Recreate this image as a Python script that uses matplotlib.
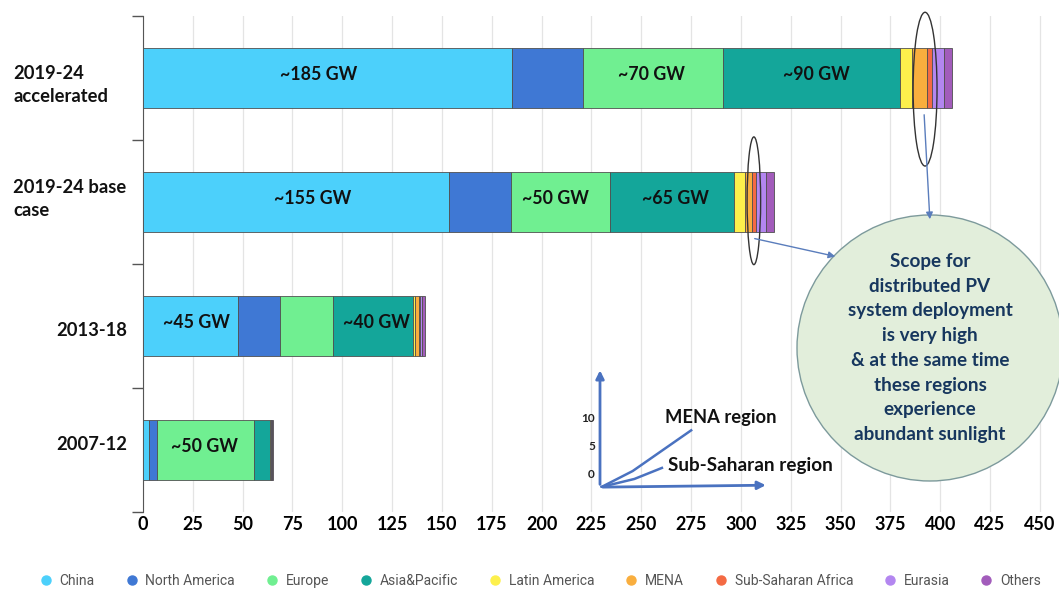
import matplotlib
matplotlib.use("Agg")
import matplotlib.pyplot as plt
from matplotlib.lines import Line2D
from matplotlib.patches import Ellipse
import numpy as np

plt.rcParams["font.family"] = ["Lato", "DejaVu Sans"]

# データ (GW)
categories = ["2019-24\naccelerated", "2019-24 base\ncase", "2013-18", "2007-12"]
regions = ["China", "North America", "Europe", "Asia&Pacific", "Latin America",
           "MENA", "Sub-Saharan Africa", "Eurasia", "Others"]
china = [185, 153.5, 47.7, 2.8]
north_america = [36, 31, 21, 4]
europe = [70, 50, 26.6, 49]
asia_pacific = [89, 62, 40.2, 8]
latin_america = [6, 5.5, 1.2, 0.3]
mena = [7.5, 3.6, 1.6, 0.2]
sub_saharan = [2.5, 1.8, 0.6, 0.1]
eurasia = [6, 5, 1.2, 0.2]
others = [4, 4, 1.4, 0.8]
series = [china, north_america, europe, asia_pacific, latin_america,
          mena, sub_saharan, eurasia, others]
colors = ["#4cd0fb", "#3f78d4", "#70ef91", "#14a69a", "#fdf04c",
          "#f9ae3e", "#f46a43", "#b386f0", "#a25cbb"]

# バー上のラベル: (カテゴリ番号, x位置, テキスト)
bar_labels = [(0, 88, "~185 GW"), (0, 255, "~70 GW"), (0, 338, "~90 GW"),
              (1, 85, "~155 GW"), (1, 207, "~50 GW"), (1, 267, "~65 GW"),
              (2, 27, "~45 GW"), (2, 117, "~40 GW"),
              (3, 31, "~50 GW")]

# 挿入図 (MENA / Sub-Saharan)
inset_ticks = [0, 5, 10]
mena_x = [0.01, 0.19, 0.53]
mena_y = [-2.1, 0.7, 7.9]
ssa_x = [0.01, 0.2, 0.36]
ssa_y = [-2.1, -0.7, 1.25]

W, H = 1059, 593
fig = plt.figure(figsize=(W / 100, H / 100), dpi=100)
ax = fig.add_axes([143 / W, 1 - 512 / H, 1 - 143 / W, 496 / H])


def px(x, y):
    return (x, H - y)


y = np.arange(len(categories))
left = np.zeros(len(categories))
for vals, col, name in zip(series, colors, regions):
    ax.barh(y, vals, left=left, height=0.485, color=col, edgecolor="#505050",
            linewidth=0.6, label=name, zorder=3)
    left += np.array(vals)

for idx, xpos, txt in bar_labels:
    ax.text(xpos, idx - 0.03, txt, ha="center", va="center", fontsize=12.8,
            fontweight="bold", color="#111111", zorder=4)

ax.set_xlim(0, 459.6)
ax.set_ylim(len(categories) - 0.5, -0.5)
ax.set_xticks(np.arange(0, 451, 25))
ax.tick_params(axis="x", length=0, labelsize=13, pad=3)
for lab in ax.get_xticklabels():
    lab.set_fontweight("bold")
ax.grid(axis="x", color="#e4e4e4", linewidth=0.9, zorder=0)
ax.set_yticks(np.arange(-0.5, len(categories) + 0.5, 1))
ax.set_yticklabels([])
ax.tick_params(axis="y", length=8, width=1, color="#555555")
for s in ["top", "right", "bottom"]:
    ax.spines[s].set_visible(False)
ax.spines["left"].set_color("#555555")

# カテゴリ名
label_pos = [(13, 85, "left"), (13, 199, "left"), (127, 331, "right"), (127, 445, "right")]
for (lx, ly, ha), txt in zip(label_pos, categories):
    fig.text(lx / W, 1 - ly / H, txt, ha=ha, va="center", fontsize=13.2,
             fontweight="bold", color="#111111", linespacing=1.4)

# 楕円
ax.add_patch(Ellipse((392.4, 0.09), 12, 1.24, fill=False, edgecolor="#333333",
                     linewidth=1.0, zorder=5, clip_on=False))
ax.add_patch(Ellipse((306.5, 0.99), 6.8, 1.03, fill=False, edgecolor="#333333",
                     linewidth=1.0, zorder=5, clip_on=False))

# 円
circ = Ellipse((930 / W, 1 - 348 / H), 266 / W, 266 / H, transform=fig.transFigure,
               facecolor="#e2eedb", edgecolor="#7d9a9c", linewidth=1.0,
               zorder=6, clip_on=False)
ax.add_patch(circ)
circle_text = ("Scope for\ndistributed PV\nsystem deployment\nis very high\n"
               "& at the same time\nthese regions\nexperience\nabundant sunlight")
fig.text(930 / W, 1 - 348 / H, circle_text, ha="center", va="center",
         fontsize=13.6, fontweight="bold", color="#17375e", linespacing=1.55,
         zorder=7)

arrow_color = "#5a7dbc"
fig.add_artist(plt.Annotation("", xy=px(930, 222), xytext=px(924, 112),
                              xycoords="figure pixels", textcoords="figure pixels",
                              arrowprops=dict(arrowstyle="-|>", color=arrow_color,
                                              lw=1.0, mutation_scale=10)))
fig.add_artist(plt.Annotation("", xy=px(838, 257), xytext=px(752, 238),
                              xycoords="figure pixels", textcoords="figure pixels",
                              arrowprops=dict(arrowstyle="-|>", color=arrow_color,
                                              lw=1.0, mutation_scale=10)))

# 挿入図
axi = fig.add_axes([600 / W, 1 - 488 / H, 172 / W, 121 / H])
axi.set_xlim(0, 1)
axi.set_ylim(-2.3, 19.1)
axi.axis("off")
ins_color = "#4a72c0"
axi.annotate("", xy=(0.0, 19.0), xytext=(0.0, -2.15),
             arrowprops=dict(arrowstyle="-|>", color=ins_color, lw=2, mutation_scale=12))
axi.annotate("", xy=(0.98, -1.8), xytext=(0.0, -2.15),
             arrowprops=dict(arrowstyle="-|>", color=ins_color, lw=2, mutation_scale=12))
axi.plot(mena_x, mena_y, color=ins_color, lw=1.8)
axi.plot(ssa_x, ssa_y, color=ins_color, lw=1.8)
for t in inset_ticks:
    axi.text(-0.03, t, str(t), ha="right", va="center", fontsize=8.5,
             fontweight="bold", color="#222222")
fig.text(665 / W, 1 - 418 / H, "MENA region", ha="left", va="center",
         fontsize=13.2, fontweight="bold", color="#111111")
fig.text(668 / W, 1 - 466 / H, "Sub-Saharan region", ha="left", va="center",
         fontsize=13.6, fontweight="bold", color="#111111")

# 凡例
handles = [Line2D([], [], marker="o", linestyle="none", markersize=6.5,
                  markerfacecolor=c, markeredgecolor=c) for c in colors]
leg = fig.legend(handles, regions, loc="center", bbox_to_anchor=(540 / W, 1 - 581 / H),
                 ncol=len(regions), frameon=False, handletextpad=0.5,
                 columnspacing=2.15, handlelength=1.0,
                 prop={"family": "Roboto", "size": 10})
for t in leg.get_texts():
    t.set_color("#555555")

fig.savefig("out.png", dpi=100)
